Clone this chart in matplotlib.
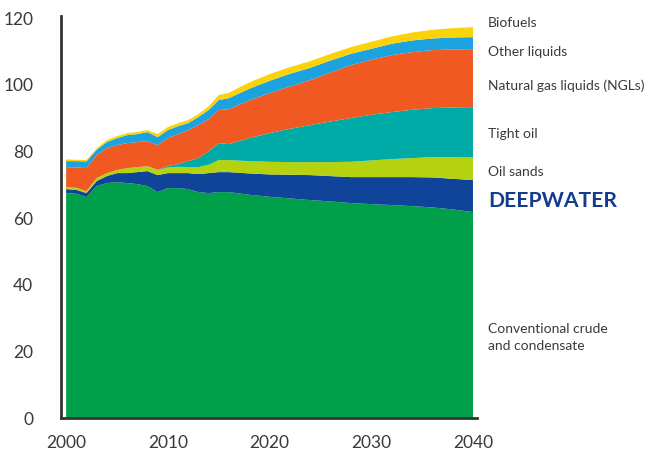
import numpy as np
import matplotlib.pyplot as plt

plt.rcParams['font.family'] = ['Lato', 'DejaVu Sans']

# Liquids supply by type, million barrels per day
years = list(range(2000, 2017)) + list(range(2018, 2041, 2))

conventional = [67.5, 67.3, 66.3, 69.6, 70.5, 70.8, 70.5, 70.2, 69.6, 67.8, 69.0, 69.0, 68.7,
                67.8, 67.5, 67.8, 67.8, 67.0, 66.4, 65.9, 65.4, 65.0, 64.5, 64.2, 63.9, 63.6,
                63.2, 62.6, 61.8]
deepwater = [1.2, 1.2, 1.2, 1.5, 2.1, 2.7, 3.0, 3.6, 4.5, 5.1, 4.5, 4.5, 4.8, 5.4, 6.0, 6.0,
             6.0, 6.4, 6.7, 7.1, 7.5, 7.6, 7.8, 8.1, 8.4, 8.7, 9.0, 9.2, 9.6]
oil_sands = [0.6, 0.6, 0.6, 0.9, 0.9, 0.9, 1.5, 1.5, 1.5, 1.5, 1.7, 1.9, 1.8, 2.1, 2.5, 3.6,
             3.6, 3.7, 3.8, 3.8, 3.9, 4.2, 4.6, 5.0, 5.4, 5.7, 6.1, 6.5, 6.8]
tight_oil = [0, 0, 0, 0, 0, 0, 0, 0, 0, 0.1, 0.4, 0.8, 1.8, 2.7, 4.0, 5.1, 4.8, 6.9, 8.6,
             10.0, 11.1, 12.2, 13.1, 13.7, 14.1, 14.5, 14.7, 14.9, 15.1]
ngls = [6.0, 6.1, 6.9, 6.9, 7.5, 7.5, 7.5, 7.5, 7.5, 7.4, 8.4, 9.0, 9.3, 9.9, 9.7, 9.9, 10.5,
        11.3, 12.0, 12.7, 13.5, 14.7, 15.9, 16.5, 17.1, 17.3, 17.4, 17.4, 17.4]
other_liquids = [1.8, 1.9, 2.0, 1.6, 1.8, 2.1, 2.4, 2.4, 2.7, 2.4, 2.4, 2.4, 2.1, 2.4, 2.7,
                 3.0, 3.3, 3.5, 3.7, 3.8, 3.7, 3.6, 3.4, 3.3, 3.4, 3.5, 3.5, 3.6, 3.6]
biofuels = [0.5, 0.4, 0.4, 0.4, 0.6, 0.6, 0.6, 0.6, 0.6, 0.9, 0.9, 0.9, 0.9, 0.9, 1.1, 1.5,
            1.6, 1.9, 2.0, 2.0, 2.0, 2.0, 2.0, 2.1, 2.2, 2.4, 2.6, 2.8, 3.0]

colors = ['#00a04b', '#0f4498', '#b4d20f', '#00aaa6', '#f05a22', '#1ca3df', '#fcd20a']
labels = ['Conventional crude\nand condensate', 'DEEPWATER', 'Oil sands', 'Tight oil',
          'Natural gas liquids (NGLs)', 'Other liquids', 'Biofuels']
label_y = [24.3, 65.1, 73.8, 85.2, 99.6, 109.8, 118.5]

fig = plt.figure(figsize=(6.67, 4.62), dpi=100)
ax = fig.add_axes([0.0915, 0.0952, 0.6237, 0.8691])

series = [conventional, deepwater, oil_sands, tight_oil, ngls, other_liquids, biofuels]
ax.stackplot(years, series, colors=colors, linewidth=0)

ax.set_xlim(1999.5, 2040.4)
ax.set_ylim(0, 120.5)
ax.set_xticks([2000, 2010, 2020, 2030, 2040])
ax.set_yticks(np.arange(0, 121, 20))
ax.tick_params(axis='y', length=0, pad=20, labelsize=12.5, labelcolor='#3a3a3a')
ax.tick_params(axis='x', length=0, pad=12, labelsize=12.5, labelcolor='#3a3a3a')

for side in ['top', 'right']:
    ax.spines[side].set_visible(False)
for side in ['left', 'bottom']:
    ax.spines[side].set_color('#333333')
    ax.spines[side].set_linewidth(2)

# Series names to the right of the stack
for lab, y in zip(labels, label_y):
    if lab == 'DEEPWATER':
        ax.text(2041.5, y, lab, fontsize=15.2, fontweight='bold', color='#143c8c',
                va='center', ha='left', clip_on=False)
    else:
        ax.text(2041.5, y, lab, fontsize=10, color='#3a3a3a', va='center', ha='left',
                linespacing=1.5, clip_on=False)

fig.savefig('out.png', dpi=100)
